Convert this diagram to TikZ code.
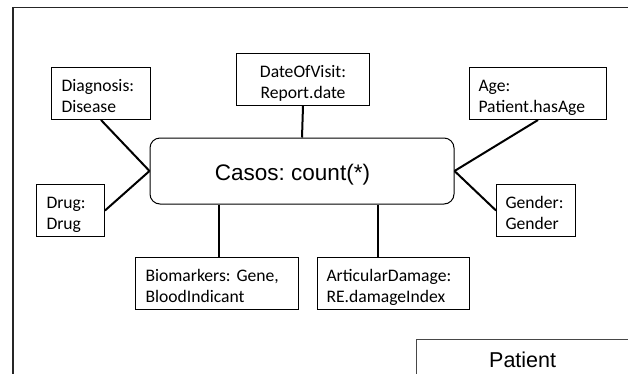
\documentclass[tikz,border=0pt]{standalone}
\usepackage{fontspec}
\setmainfont{Carlito}
\newfontfamily\arialfont{Liberation Sans}
\frenchspacing
\newcommand{\attrtext}[3]{\begin{tabular}{@{}#1@{}}\rule{0pt}{23.5pt}#2\\#3\end{tabular}}
\tikzset{
  attr/.style={draw=black, line width=1pt, rectangle, inner ysep=0pt,
    minimum height=52pt, anchor=north west, align=left,
    font=\fontsize{17.6}{21}\selectfont\frenchspacing},
  link/.style={line width=2pt, black},
  mainbox/.style={draw=black, line width=1pt, rectangle, rounded corners=10pt,
    minimum width=304pt, minimum height=66pt, inner sep=0pt,
    text height=18pt, text depth=0pt, font=\arialfont\fontsize{22.5}{27}\selectfont\frenchspacing},
  classbox/.style={draw=black!72, line width=1.3pt, rectangle, inner sep=0pt,
    anchor=north west, minimum width=220pt, text height=28pt, text depth=32pt,
    font=\arialfont\fontsize{21.5}{26}\selectfont},
}
\begin{document}
\begin{tikzpicture}[x=1pt,y=-1pt]
\useasboundingbox (0,0) rectangle (628,373);
\clip (0,0) rectangle (628,373);
% outer frame
\draw[line width=1.4pt, black!85] (13,390) -- (13,7.5) -- (650,7.5);

\node[mainbox] (casos) at (302,171) {Casos: count(*)\hspace*{19pt}};

\node[attr, inner xsep=10pt, text width=79pt] (diag) at (51,67) {\attrtext{l}{Diagnosis:}{Disease}};
\node[attr, inner xsep=0pt, minimum width=133pt] (date) at (236,53) {\attrtext{c}{DateOfVisit:}{Report.date}};
\node[attr, inner xsep=9pt, text width=119pt] (age) at (469,67) {\attrtext{l}{Age:}{Patient.hasAge}};
\node[attr, inner xsep=10pt, text width=48pt] (drug) at (36,184) {\attrtext{l}{Drug:}{Drug}};
\node[attr, inner xsep=9pt, text width=61pt] (gender) at (496,184) {\attrtext{l}{Gender:}{Gender}};
\node[attr, inner xsep=10pt, text width=143pt] (bio) at (135,257) {\attrtext{l}{Biomarkers: Gene,}{BloodIndicant}};
\node[attr, inner xsep=9pt, text width=134pt] (art) at (317,257) {\attrtext{l}{ArticularDamage:}{RE.damageIndex}};

\node[classbox] (patient) at (416,339) {Patient\hspace*{8pt}};

\draw[link] (diag.south) -- (casos.west);
\draw[link] (drug.east) -- (casos.west);
\draw[link] (date.south) -- (casos.north);
\draw[link] (age.south) -- (casos.east);
\draw[link] (gender.west) -- (casos.east);
\draw[link] ([xshift=1.5pt]bio.north) -- ([xshift=1.5pt]bio.north |- casos.south);
\draw[link] ([xshift=-16pt]art.north) -- ([xshift=-16pt]art.north |- casos.south);
\end{tikzpicture}
\end{document}
